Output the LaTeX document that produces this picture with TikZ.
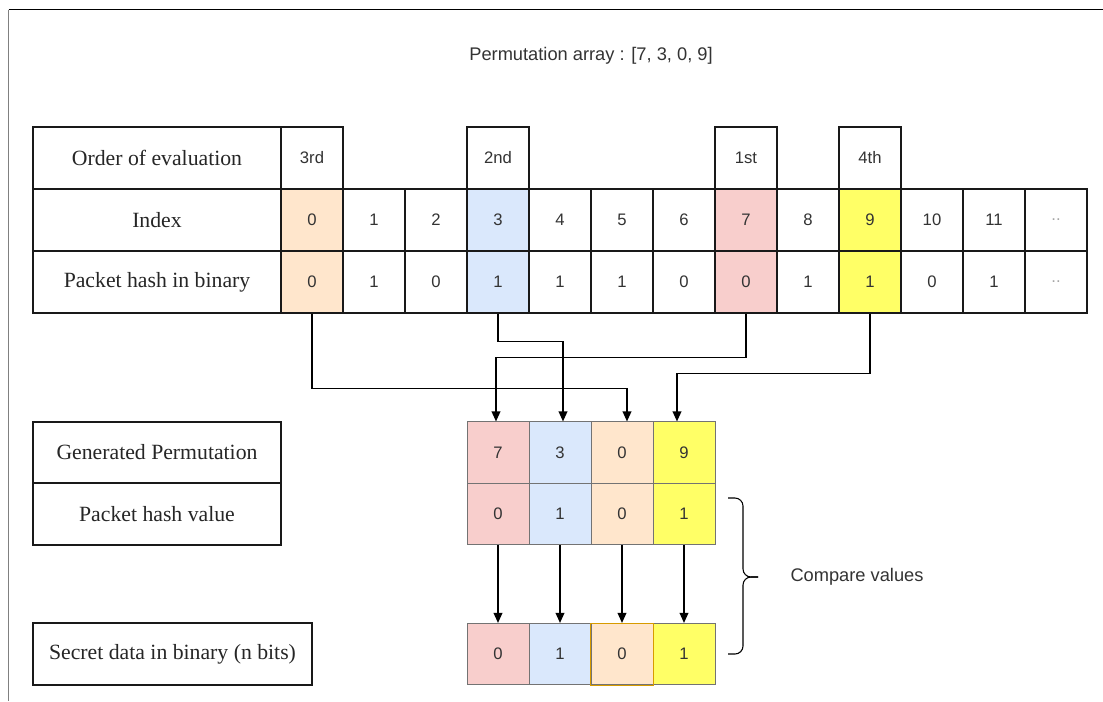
\documentclass[tikz,border=0pt]{standalone}
\usepackage{fontspec}
\setmainfont{Liberation Serif}
\newfontfamily\arial{Liberation Sans}
\usetikzlibrary{arrows.meta,calc}
\definecolor{cred}{HTML}{F8CECC}
\definecolor{cblue}{HTML}{DAE8FC}
\definecolor{corange}{HTML}{FFE6CC}
\definecolor{cyellow}{HTML}{FFFF66}
\definecolor{corangeline}{HTML}{D79B00}
\begin{document}
\begin{tikzpicture}[x=0.75pt,y=-0.75pt,
  cell/.style={draw=black!90,line width=0.8pt,minimum width=46.5pt,minimum height=46.5pt,inner sep=0pt,
    font=\arial\fontsize{12.5}{14}\selectfont,text=black!80},
  pcell/.style={draw=black!55,line width=0.6pt,minimum width=46.5pt,minimum height=46pt,inner sep=0pt,
    font=\arial\fontsize{12.5}{14}\selectfont,text=black!80},
  lab/.style={draw=black!90,line width=0.8pt,minimum width=186pt,minimum height=46.5pt,inner sep=0pt,
    font=\fontsize{16.3}{19}\selectfont,text=black!85},
  sans/.style={font=\arial\fontsize{13.7}{16}\selectfont,text=black!80},
  arr/.style={line width=1.1pt,-{Triangle[length=7.5pt,width=6.5pt]}}]

\useasboundingbox (0,0) rectangle (1103,701);
\fill[white] (0,0) rectangle (1103,701);
\draw[line width=1.2pt] (8.5,9.5) -- (1103,9.5);
\draw[black!50,line width=1.2pt] (8.5,9.5) -- (8.5,701);

\node[sans] (title) at (591,56) {Permutation array : [7, 3, 0, 9]};

% top table labels
\node[lab] (lo) at (157,158) {Order of evaluation};
\node[lab] (li) at (157,220) {Index};
\node[lab] (lh) at (157,282) {Packet hash in binary};

% order boxes
\node[cell] (o0) at (312,158) {3rd};
\node[cell] (o3) at (498,158) {2nd};
\node[cell] (o7) at (746,158) {1st};
\node[cell] (o9) at (870,158) {4th};

% index and hash rows
\foreach \i/\a/\b/\f in {0/0/0/corange,1/1/1/white,2/2/0/white,3/3/1/cblue,4/4/1/white,5/5/1/white,
  6/6/0/white,7/7/0/cred,8/8/1/white,9/9/1/cyellow,10/10/0/white,11/11/1/white}{
  \node[cell,fill=\f] (i\i) at (312+62*\i,220) {\a};
  \node[cell,fill=\f] (h\i) at (312+62*\i,282) {\b};
}
\node[cell] (i12) at (1056,220) {\textcolor{black!35}{..}};
\node[cell] (h12) at (1056,282) {\textcolor{black!35}{..}};

% lower labels
\node[lab,minimum height=45.75pt] (lg) at (157,452.5) {Generated Permutation};
\node[lab] (lp) at (157,514) {Packet hash value};
\node[lab,minimum width=209.25pt] (ls) at (172.5,654) {Secret data in binary (n bits)};

% generated permutation
\foreach \i/\p/\v/\s/\f in {0/7/0/0/cred,1/3/1/1/cblue,2/0/0/0/corange,3/9/1/1/cyellow}{
  \node[pcell,fill=\f] (g\i) at (498+62*\i,452.5) {\p};
  \node[pcell,fill=\f] (v\i) at (498+62*\i,514) {\v};
  \node[pcell,fill=\f] (s\i) at (498+62*\i,654) {\s};
}
\draw[corangeline,line width=0.6pt] (s2.north west) rectangle (s2.south east);

% connectors from top table
\draw[arr] (h0.south) |- ($(g2.north)+(5,-33)$) -- ($(g2.north)+(5,0)$);
\draw[arr] (h3.south) |- ($(g1.north)+(3,-80)$) -- ($(g1.north)+(3,0)$);
\draw[arr] (h7.south) |- ($(g0.north)+(-2,-64)$) -- ($(g0.north)+(-2,0)$);
\draw[arr] (h9.south) |- ($(g3.north)+(-7,-48)$) -- ($(g3.north)+(-7,0)$);

% connectors down to secret data
\foreach \i in {0,1,2,3}{
  \draw[arr] (v\i.south) -- (s\i.north);
}

% brace
\coordinate (bt) at (728,498);
\coordinate (bb) at (728,654);
\coordinate (btip) at (758,577);
\draw[line width=0.8pt,rounded corners=6pt] (bt) -- (743,498) -- (743,577) -- (btip);
\draw[line width=0.8pt,rounded corners=6pt] (bb) -- (743,654) -- (743,577) -- (btip);
\node[sans] (cmp) at (857,577) {Compare values};
\end{tikzpicture}
\end{document}
